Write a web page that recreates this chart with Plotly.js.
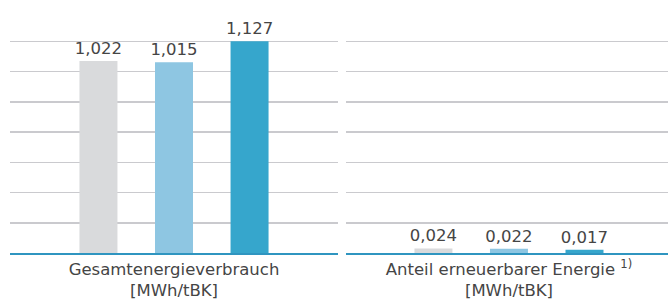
<!DOCTYPE html>
<html>
<head>
<meta charset="utf-8">
<script src="https://cdn.plot.ly/plotly-3.0.1.min.js"></script>
<style>html,body{margin:0;padding:0;background:#fff;}#chart{width:668px;height:300px;}</style>
</head>
<body>
<div id="chart"></div>
<script>
const categories = ['Gesamtenergieverbrauch<br>[MWh/tBK]', 'Anteil erneuerbarer Energie <sup>1)</sup><br>[MWh/tBK]'];
const seriesNames = ['Reihe 1', 'Reihe 2', 'Reihe 3'];
const series1 = [1.022, 0.024];
const series2 = [1.015, 0.022];
const series3 = [1.127, 0.017];
const colors = ['#d9dadc', '#8ec6e2', '#36a6cc'];

const allSeries = [series1, series2, series3];
const traces = [];
const axes = ['x', 'x2'];
const fontFamily = '"DejaVu Sans", sans-serif';
categories.forEach((cat, ci) => {
  allSeries.forEach((s, si) => {
    traces.push({
      type: 'bar',
      name: seriesNames[si],
      x: [cat],
      y: [s[ci]],
      xaxis: axes[ci],
      yaxis: 'y',
      marker: {color: colors[si]},
      texttemplate: '%{y:.3f}',
      textposition: 'outside',
      constraintext: 'none',
      textfont: {family: fontFamily, size: 16.5, color: '#454545'},
      cliponaxis: false,
      hoverinfo: 'skip',
      showlegend: false
    });
  });
});

const layout = {
  width: 668, height: 300,
  margin: {l: 0, r: 0, t: 11, b: 47},
  paper_bgcolor: '#ffffff', plot_bgcolor: '#ffffff',
  separators: ',.',
  barmode: 'group',
  bargap: 0.309,
  bargroupgap: 0.497,
  font: {family: fontFamily, size: 15, color: '#454545'},
  xaxis: {
    domain: [10/668, 338/668], range: [-0.5, 0.5],
    showline: true, linecolor: '#2f95c0', linewidth: 2,
    ticks: '', showgrid: false, zeroline: false,
    tickfont: {family: fontFamily, size: 16.5, color: '#454545'}
  },
  xaxis2: {
    domain: [346/668, 1], range: [-0.497, 0.485],
    showline: true, linecolor: '#2f95c0', linewidth: 2,
    ticks: '', showgrid: false, zeroline: false,
    tickfont: {family: fontFamily, size: 16.5, color: '#454545'}
  },
  yaxis: {
    range: [0, 1.2885], tickmode: 'linear', tick0: 0, dtick: 0.161,
    showticklabels: false, showgrid: true, gridcolor: '#cacace', gridwidth: 1.5,
    zeroline: false, showline: false, ticks: ''
  }
};

Plotly.newPlot('chart', traces, layout, {displayModeBar: false, staticPlot: true});
</script>
</body>
</html>
